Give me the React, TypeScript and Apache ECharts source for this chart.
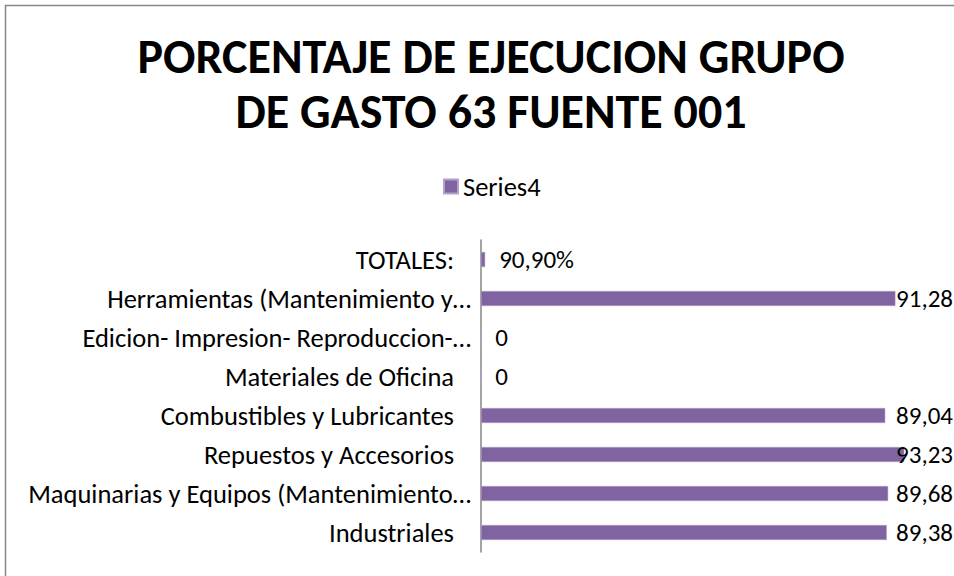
import React, { useEffect, useRef } from "react";
import * as echarts from "echarts";

const categories = [
  "Industriales",
  "Maquinarias y Equipos (Mantenimiento…",
  "Repuestos y Accesorios",
  "Combustibles y Lubricantes",
  "Materiales de Oficina",
  "Edicion- Impresion- Reproduccion-…",
  "Herramientas (Mantenimiento y…",
  "TOTALES:",
];
const values = [89.38, 89.68, 93.23, 89.04, 0, 0, 91.28, 0.909];
const valueLabels = ["89,38", "89,68", "93,23", "89,04", "0", "0", "91,28", "90,90%"];
const seriesName = "Series4";
const titleLines = ["PORCENTAJE DE EJECUCION GRUPO", "DE GASTO 63 FUENTE 001"];

const FONT = "Carlito, Calibri, 'Open Sans', sans-serif";
const PURPLE = "#8064A2";

export default function App() {
  const ref = useRef<HTMLDivElement>(null);
  useEffect(() => {
    if (!ref.current) return;
    const chart = echarts.init(ref.current, null, { renderer: "svg" });
    const W = 954;
    chart.setOption({
      animation: false,
      backgroundColor: "#ffffff",
      textStyle: { fontFamily: FONT },
      graphic: [
        {
          type: "rect",
          shape: { x: 5.5, y: 5.5, width: 1200, height: 1200 },
          style: { fill: "none", stroke: "#868686", lineWidth: 1.5 },
          silent: true,
        },
      ],
      title: {
        text: titleLines.join("\n"),
        left: 486,
        textAlign: "center",
        top: 24,
        textStyle: {
          fontFamily: FONT,
          fontWeight: "bold",
          fontSize: 48,
          lineHeight: 55,
          color: "#000000",
        },
      },
      legend: {
        data: [seriesName],
        left: 438,
        top: 168,
        icon: "rect",
        itemWidth: 14,
        itemHeight: 14,
        itemGap: 6,
        textStyle: { fontFamily: FONT, fontSize: 26.5, color: "#000000" },
      },
      grid: { left: 481, right: 19, top: 240, bottom: 24, containLabel: false },
      xAxis: {
        type: "value",
        min: 0,
        max: 100,
        show: false,
        splitLine: { show: false },
      },
      yAxis: {
        type: "category",
        data: categories,
        axisLine: { show: true, lineStyle: { color: "#868686", width: 1.5 } },
        axisTick: { show: false },
        axisLabel: {
          fontFamily: FONT,
          fontSize: 26.5,
          color: "#000000",
          margin: 10,
          formatter: (v: string) => (v.endsWith("…") ? v : "{p|" + v + "}"),
          rich: { p: { fontFamily: FONT, fontSize: 26.5, color: "#000000", padding: [0, 17, 0, 0] } },
        },
      },
      series: [
        {
          name: seriesName,
          type: "bar",
          data: values,
          barWidth: 15,
          itemStyle: { color: PURPLE, borderColor: "#b3a2c7", borderWidth: 0.5 },
          label: {
            show: true,
            position: "right",
            distance: 14,
            fontFamily: FONT,
            fontSize: 25,
            color: "#000000",
            formatter: (p: any) => valueLabels[p.dataIndex],
          },
          labelLayout: (p: any) => {
            const r = p.labelRect;
            const limit = W - 1;
            if (r.x + r.width > 940)
              return {
                x: limit - r.width,
                y: r.y + r.height / 2,
                align: "left",
                verticalAlign: "middle",
              };
            return {};
          },
        },
      ],
    });
    return () => chart.dispose();
  }, []);
  return (
    <div
      ref={ref}
      style={{ position: "fixed", left: 0, top: 0, width: 954, height: 576, background: "#fff" }}
    />
  );
}
